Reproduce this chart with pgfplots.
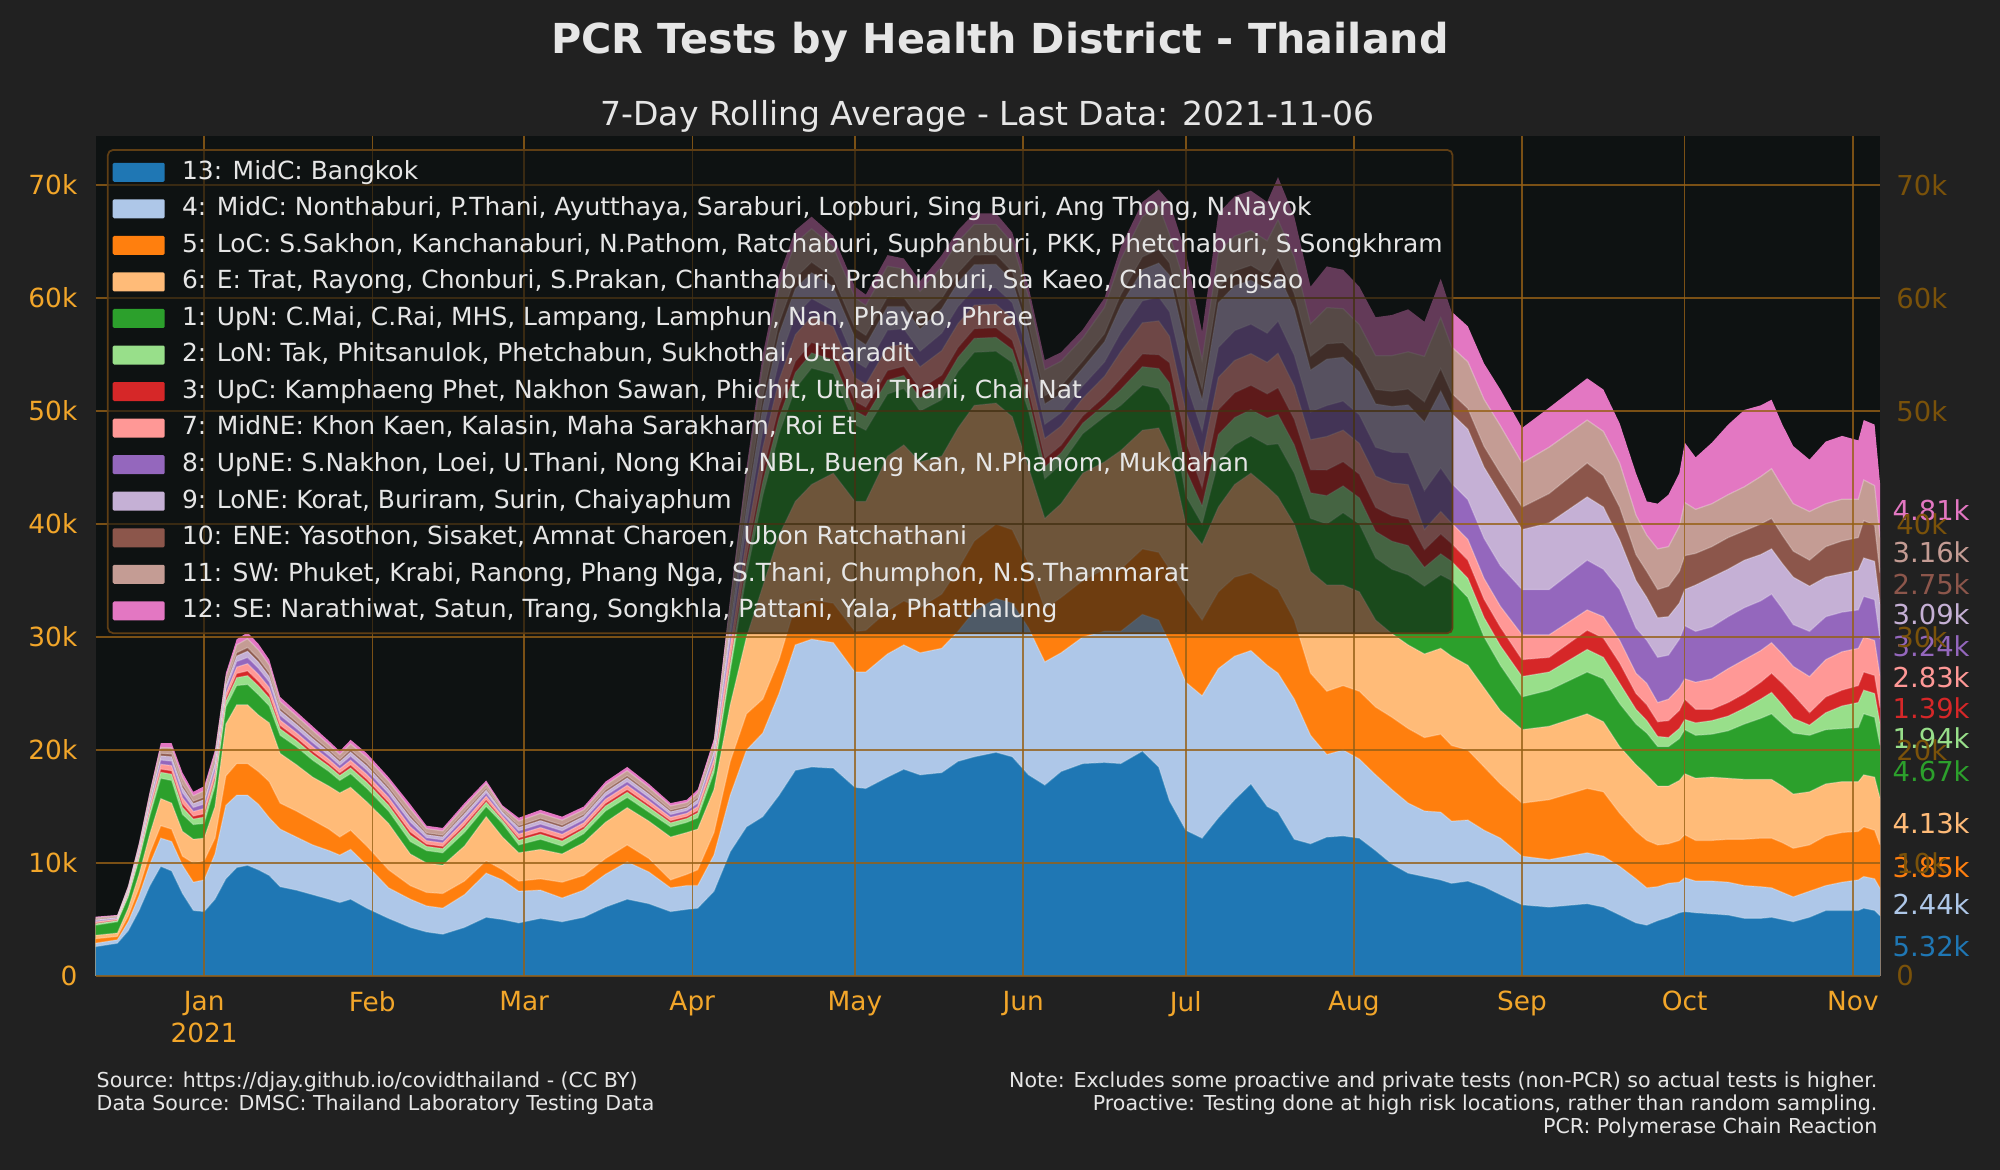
\documentclass[border=0pt]{standalone}
\usepackage{fontspec}
\setmainfont{DejaVu Sans}
\usepackage{pgfplots}
\pgfplotsset{compat=1.18}
\usepackage{pgfplotstable}
\definecolor{figbg}{HTML}{212121}
\definecolor{axbg}{HTML}{0E1212}
\definecolor{tickc}{HTML}{F2A62A}
\definecolor{rtickc}{RGB}{122,82,10}
\definecolor{gridc}{RGB}{150,96,22}
\definecolor{legedge}{RGB}{95,62,20}
\definecolor{txt}{HTML}{E6E6E6}
\definecolor{c1}{HTML}{1F77B4}
\definecolor{c2}{HTML}{AEC7E8}
\definecolor{c3}{HTML}{FF7F0E}
\definecolor{c4}{HTML}{FFBB78}
\definecolor{c5}{HTML}{2CA02C}
\definecolor{c6}{HTML}{98DF8A}
\definecolor{c7}{HTML}{D62728}
\definecolor{c8}{HTML}{FF9896}
\definecolor{c9}{HTML}{9467BD}
\definecolor{c10}{HTML}{C5B0D5}
\definecolor{c11}{HTML}{8C564B}
\definecolor{c12}{HTML}{C49C94}
\definecolor{c13}{HTML}{E377C2}
% cumulative tops of the stacked layers, in thousands of tests; d = days since 2021-01-01
\pgfplotstableread{
d c1 c2 c3 c4 c5 c6 c7 c8 c9 c10 c11 c12 c13
-20 2.6 2.9 3.3 3.6 4.5 4.63 4.70 4.80 4.89 4.98 5.03 5.16 5.25
-16 2.9 3.2 3.5 3.8 4.8 4.90 4.96 5.04 5.11 5.18 5.23 5.33 5.40
-14 4.0 4.8 5.3 6.0 7.0 7.17 7.26 7.40 7.52 7.64 7.71 7.88 8.0
-12 5.8 7.1 7.8 9.0 10.3 10.56 10.69 10.90 11.08 11.26 11.37 11.62 11.8
-10 8.0 9.9 10.9 12.6 14.2 14.57 14.77 15.08 15.34 15.61 15.76 16.14 16.4
-8 9.7 12.2 13.3 15.7 17.5 18.03 18.31 18.74 19.11 19.48 19.70 20.23 20.6
-6 9.3 11.9 13.0 15.3 17.3 17.86 18.16 18.62 19.02 19.41 19.64 20.20 20.6
-4 7.3 9.8 10.6 12.8 14.3 14.93 15.26 15.78 16.22 16.67 16.93 17.56 18.0
-2 5.8 8.3 10.0 12.1 13.4 13.89 14.15 14.56 14.91 15.26 15.46 15.95 16.3
0 5.7 8.5 10.2 12.2 13.5 14.06 14.36 14.82 15.22 15.61 15.84 16.40 16.8
2 6.8 10.8 12.2 15.0 16.8 17.34 17.63 18.08 18.46 18.85 19.07 19.62 20.0
4 8.6 15.1 17.7 22.3 23.8 24.31 24.58 25.0 25.36 25.72 25.93 26.44 26.8
6 9.6 16.0 18.8 24.0 25.7 26.40 26.77 27.34 27.83 28.32 28.61 29.31 29.8
8 9.8 16.0 18.8 24.0 25.8 26.58 27.0 27.64 28.19 28.74 29.07 29.85 30.4
10 9.4 15.2 18.1 23.1 24.9 25.67 26.07 26.7 27.24 27.78 28.10 28.86 29.4
12 8.9 14.0 17.2 22.4 23.9 24.60 24.97 25.54 26.03 26.52 26.81 27.51 28.0
14 7.9 13.0 15.3 19.7 21.3 21.88 22.18 22.66 23.07 23.48 23.71 24.29 24.7
17 7.6 12.3 14.6 18.7 20.3 20.83 21.11 21.54 21.91 22.28 22.50 23.03 23.4
20 7.2 11.6 13.8 17.6 19.1 19.61 19.88 20.3 20.66 21.02 21.23 21.74 22.1
23 6.8 11.1 13.0 16.8 18.1 18.56 18.80 19.18 19.50 19.83 20.02 20.48 20.8
25 6.5 10.7 12.3 16.2 17.3 17.74 17.98 18.34 18.65 18.96 19.15 19.59 19.9
27 6.8 11.2 12.9 16.7 17.9 18.41 18.68 19.1 19.46 19.82 20.03 20.54 20.9
30 6.0 9.8 11.5 15.4 16.6 17.13 17.41 17.84 18.21 18.58 18.80 19.33 19.7
34 5.1 7.8 9.4 13.5 14.6 15.11 15.38 15.8 16.16 16.52 16.73 17.24 17.6
38 4.3 6.8 8.0 10.8 11.9 12.46 12.76 13.22 13.62 14.01 14.24 14.80 15.2
41 3.9 6.2 7.4 10.0 11.1 11.47 11.67 11.98 12.24 12.51 12.66 13.04 13.3
44 3.7 6.0 7.3 9.8 10.9 11.27 11.47 11.78 12.04 12.31 12.46 12.84 13.1
48 4.3 7.2 8.4 11.5 12.7 13.14 13.38 13.74 14.05 14.36 14.55 14.99 15.3
52 5.2 9.1 10.2 14.1 15.0 15.39 15.60 15.92 16.20 16.47 16.63 17.02 17.3
55 5.0 8.5 9.4 12.3 13.5 13.77 13.92 14.14 14.33 14.52 14.64 14.91 15.1
58 4.7 7.5 8.4 10.9 11.6 12.01 12.22 12.56 12.85 13.14 13.30 13.71 14.0
62 5.1 7.6 8.6 11.2 12.1 12.54 12.78 13.14 13.45 13.76 13.95 14.39 14.7
66 4.8 6.9 8.3 10.8 11.5 11.94 12.18 12.54 12.85 13.16 13.35 13.79 14.1
70 5.2 7.6 8.9 11.8 12.6 13.01 13.22 13.56 13.85 14.14 14.30 14.71 15.0
74 6.1 9.0 10.4 13.6 14.6 15.04 15.28 15.64 15.95 16.26 16.45 16.89 17.2
78 6.8 10.1 11.6 14.9 15.8 16.26 16.50 16.88 17.20 17.53 17.72 18.18 18.5
82 6.4 9.2 10.4 13.7 14.5 14.93 15.15 15.5 15.8 16.1 16.28 16.7 17.0
86 5.7 7.8 8.5 12.3 13.2 13.56 13.75 14.04 14.29 14.54 14.69 15.05 15.3
89 5.9 8.0 9.0 12.7 13.6 13.94 14.12 14.4 14.64 14.88 15.02 15.36 15.6
91 6.0 8.0 9.4 13.0 14.0 14.43 14.65 15.0 15.3 15.6 15.78 16.2 16.5
94 7.5 10.7 12.7 16.5 18.0 18.51 18.78 19.2 19.56 19.92 20.13 20.64 21.0
97 11.0 16.0 19.0 24.0 27.0 27.65 28.11 29.21 29.99 31.10 31.55 32.98 33.5
100 13.2 20.0 23.2 30.0 35.5 36.45 37.12 38.73 39.87 41.49 42.15 44.24 45.0
103 14.1 21.5 24.5 34.5 42.5 43.75 44.63 46.75 48.25 50.38 51.25 54.0 55.0
106 16.0 25.0 28.0 39.0 48.0 49.4 50.38 52.76 54.44 56.82 57.8 60.88 62.0
109 18.2 29.3 32.8 42.0 52.0 53.4 54.38 56.76 58.44 60.82 61.8 64.88 66.0
112 18.5 29.8 33.3 43.5 53.8 55.14 56.08 58.36 59.96 62.24 63.18 66.13 67.2
116 18.4 29.5 33.0 44.5 53.3 54.52 55.37 57.45 58.91 60.99 61.84 64.52 65.5
120 16.7 26.9 30.5 42.0 48.8 50.02 50.87 52.95 54.41 56.49 57.34 60.02 61.0
122 16.6 26.9 30.6 42.0 48.3 49.5 50.34 52.38 53.82 55.86 56.7 59.34 60.3
126 17.6 28.5 32.3 46.0 51.5 52.73 53.59 55.68 57.16 59.25 60.11 62.82 63.8
129 18.3 29.3 33.2 47.0 52.0 53.15 53.96 55.91 57.29 59.25 60.05 62.58 63.5
132 17.8 28.6 32.6 45.5 50.0 51.15 51.96 53.91 55.29 57.25 58.05 60.58 61.5
136 18.0 29.0 33.8 46.0 51.0 52.28 53.18 55.35 56.89 59.06 59.96 62.78 63.8
139 19.0 30.5 36.0 48.5 53.5 54.75 55.63 57.75 59.25 61.38 62.25 65.0 66.0
142 19.4 32.3 38.5 50.5 55.2 56.43 57.29 59.38 60.86 62.95 63.81 66.52 67.5
146 19.8 33.4 40.0 50.7 55.3 56.52 57.37 59.45 60.91 62.99 63.84 66.52 67.5
149 19.4 33.0 39.5 49.5 54.3 55.45 56.26 58.21 59.59 61.55 62.35 64.88 65.8
152 17.8 30.8 36.5 45.0 50.0 51.1 51.87 53.74 55.06 56.93 57.7 60.12 61.0
155 16.9 27.8 32.5 40.5 44.0 45.05 45.79 47.57 48.83 50.62 51.35 53.66 54.5
158 18.1 28.6 33.5 41.8 45.3 46.29 46.98 48.67 49.85 51.54 52.23 54.41 55.2
162 18.8 30.0 35.0 44.5 48.0 48.92 49.56 51.13 52.23 53.8 54.44 56.46 57.2
166 18.9 30.5 36.0 45.5 49.5 50.55 51.29 53.07 54.33 56.12 56.85 59.16 60.0
169 18.8 30.5 36.0 46.5 50.5 51.9 52.88 55.26 56.94 59.32 60.3 63.38 64.5
173 19.9 32.0 37.8 48.3 52.3 53.92 55.05 57.81 59.75 62.51 63.64 67.2 68.5
176 18.5 31.5 37.5 48.5 52.0 53.76 54.99 57.98 60.1 63.09 64.32 68.19 69.6
178 15.5 29.5 36.0 46.5 50.5 52.48 54.28 56.62 58.78 62.02 63.1 65.62 68.5
181 12.9 26.0 33.5 40.0 42.5 44.8 47.3 50.0 52.6 55.8 57.0 61.0 64.0
184 12.2 24.8 31.5 38.2 40.0 41.6 43.2 45.9 48.2 51.0 51.9 54.5 57.0
187 14.0 27.2 34.0 41.5 45.5 47.92 50.12 52.98 55.62 59.58 60.9 63.98 67.5
190 15.6 28.3 35.3 43.5 47.0 49.42 51.62 54.48 57.12 61.08 62.4 65.48 69.0
193 17.0 28.8 35.7 44.5 47.8 50.12 52.28 55.09 57.69 61.58 62.9 65.98 69.5
196 15.0 27.5 34.8 43.3 47.0 49.37 51.52 54.31 56.89 60.76 62.05 65.06 68.5
198 14.5 26.8 34.2 42.4 47.1 49.7 52.06 55.12 57.96 62.2 63.62 66.92 70.7
201 12.1 24.5 31.5 40.0 44.5 47.0 49.27 52.22 54.94 59.03 60.39 63.57 67.2
204 11.7 21.3 26.8 35.8 40.5 42.76 44.81 47.47 49.93 53.62 54.85 57.72 61.0
207 12.3 19.6 25.2 34.6 40.0 42.51 44.79 47.75 50.49 54.59 55.96 59.15 62.8
210 12.4 20.0 25.7 34.6 41.0 43.37 45.52 48.31 50.89 54.76 56.05 59.06 62.5
213 12.2 19.2 25.2 34.0 40.0 42.31 44.41 47.14 49.66 53.44 54.7 57.64 61.0
216 11.1 17.8 23.8 31.5 37.0 39.34 41.47 44.24 46.8 50.63 51.91 54.89 58.3
219 9.9 16.5 22.9 30.3 36.0 38.48 40.73 43.65 46.35 50.4 51.75 54.9 58.5
222 9.1 15.3 21.9 29.3 35.5 38.09 40.44 43.49 46.31 50.54 51.95 55.24 59.0
225 8.8 14.6 21.1 28.5 34.5 36.16 37.73 39.51 42.95 49.03 50.81 54.84 57.9
228 8.5 14.5 21.4 29.0 35.5 37.36 39.12 41.11 44.96 51.77 53.76 58.27 61.7
230 8.2 13.7 20.4 28.3 35.0 36.69 38.28 40.09 43.59 49.78 51.59 55.68 58.8
233 8.4 13.8 20.0 27.5 33.5 35.2 36.81 38.64 42.16 48.4 50.23 54.36 57.5
236 7.9 12.9 18.5 25.5 30.0 31.72 33.34 35.18 38.74 45.03 46.87 51.03 54.2
239 7.2 12.2 17.0 23.5 27.5 29.23 30.87 32.72 36.31 42.65 44.51 48.7 51.9
243 6.3 10.6 15.3 21.8 24.7 26.5 28.0 30.2 34.2 39.5 41.5 45.4 48.5
248 6.1 10.3 15.6 22.1 25.3 26.9 28.2 30.2 34.2 40.1 42.7 46.8 50.3
255 6.4 10.9 16.6 23.2 26.9 28.9 30.6 32.4 36.8 42.4 45.4 49.2 52.9
258 6.1 10.6 16.3 22.5 26.3 28.2 29.9 31.8 36.0 41.5 44.3 48.2 51.9
261 5.4 9.7 14.4 20.3 24.1 25.9 27.7 29.7 34.2 38.6 41.5 45.4 48.9
264 4.7 8.6 12.8 18.7 22.3 23.6 25.0 26.8 30.8 35.0 37.3 40.8 44.5
266 4.5 7.8 12.0 17.8 21.5 22.6 24.0 25.9 29.7 33.5 35.8 39.0 42.0
268 4.9 7.9 11.6 16.8 20.3 21.2 22.5 24.2 28.2 31.7 34.2 37.8 41.8
270 5.2 8.2 11.7 16.8 20.3 21.1 22.6 24.5 28.4 31.8 34.5 38.0 42.6
272 5.6 8.3 12.0 17.3 21.0 21.9 23.5 25.5 29.8 33.0 35.8 39.8 44.5
273 5.7 8.7 12.5 17.9 21.8 22.7 24.5 26.3 31.0 34.2 37.2 41.9 47.2
275 5.6 8.4 12.0 17.5 21.3 22.4 23.6 26.0 30.5 34.6 37.4 41.3 45.9
278 5.5 8.4 12.0 17.6 21.4 22.6 23.6 26.3 30.9 35.3 38.0 41.8 47.2
281 5.4 8.3 12.1 17.5 21.7 23.0 24.2 27.2 31.8 36.0 38.8 42.6 48.8
284 5.1 8.0 12.1 17.4 22.3 23.7 25.0 28.0 32.6 36.8 39.4 43.3 50.1
287 5.1 7.9 12.2 17.4 22.8 24.5 26.0 28.8 33.2 37.3 40.0 44.2 50.5
289 5.2 7.8 12.2 17.4 23.2 25.1 26.8 29.5 33.8 37.8 40.5 44.9 51.0
291 5.0 7.4 11.8 16.8 22.3 24.0 25.9 28.5 32.5 36.5 39.0 43.3 48.8
293 4.8 7.0 11.3 16.1 21.5 22.8 24.9 27.4 31.1 35.3 37.6 41.8 46.9
296 5.2 7.5 11.6 16.3 21.3 22.2 23.3 26.5 30.5 34.5 36.8 41.1 45.7
299 5.8 8.0 12.4 17.0 21.8 23.3 24.7 28.0 31.8 35.3 38.0 41.8 47.3
302 5.8 8.3 12.7 17.2 21.9 23.9 25.3 28.7 32.2 35.6 38.5 42.2 47.8
305 5.8 8.5 12.8 17.2 22.0 24.2 25.7 29.0 32.4 35.9 38.8 42.2 47.4
306 6.0 8.8 13.2 17.8 23.2 25.3 26.9 30.0 33.6 37.0 40.3 43.9 49.2
308 5.8 8.6 12.9 17.6 22.9 25.0 26.6 29.7 33.3 36.7 39.9 43.4 48.8
309 5.32 7.76 11.61 15.74 20.41 22.35 23.74 26.57 29.81 32.9 35.65 38.81 43.62
}\data

\pgfplotsset{
  area/.style={fill=#1, draw=none},
  edge/.style={forget plot, white, opacity=0.28, line width=0.35pt},
}

\begin{document}
\begin{tikzpicture}
\fill[figbg] (0,0) rectangle (20,11.7);
\useasboundingbox (0,0) rectangle (20,11.7);

\begin{axis}[
  at={(0.957cm,1.94cm)}, anchor=south west,
  scale only axis, width=17.843cm, height=8.395cm,
  xmin=-20, xmax=309, ymin=0, ymax=74.3,
  enlargelimits=false,
  axis background/.style={fill=axbg},
  axis line style={draw=none},
  major tick length=0pt,
  axis on top,
  clip mode=individual,
  grid=major,
  grid style={gridc, line width=0.4pt, opacity=0.8},
  xtick={0,31,59,90,120,151,181,212,243,273,304},
  xticklabels={{Jan\\2021},Feb,Mar,Apr,May,Jun,Jul,Aug,Sep,Oct,Nov},
  xticklabel style={align=center, text=tickc, font=\fontsize{7.5}{9.2}\selectfont, yshift=-0.03cm},
  ytick={0,10,20,30,40,50,60,70},
  yticklabels={0,10k,20k,30k,40k,50k,60k,70k},
  yticklabel style={text=tickc, font=\fontsize{7.5}{9}\selectfont, xshift=-0.06cm},
  legend cell align=left,
  reverse legend,
  legend image code/.code={\fill[#1, fill opacity=1, rounded corners=0.4pt] (0cm,-0.095cm) rectangle (0.52cm,0.095cm);},
  legend style={
    at={(0.0063,0.985)}, anchor=north west,
    fill=axbg, fill opacity=0.6, text opacity=1, draw opacity=1,
    draw=legedge, rounded corners=1.5pt, line width=0.5pt,
    text=txt, font=\fontsize{7.1}{8.5}\selectfont,
    row sep=0.5pt, column sep=0.12cm, inner sep=1.4pt,
    nodes={inner sep=1.5pt, text height=5.4pt, text depth=1.5pt},
  },
]
\addplot[area=c13] table[x=d,y=c13]{\data} \closedcycle;
\addlegendentry{12: SE: Narathiwat, Satun, Trang, Songkhla, Pattani, Yala, Phatthalung}
\addplot[area=c12] table[x=d,y=c12]{\data} \closedcycle;
\addlegendentry{11: SW: Phuket, Krabi, Ranong, Phang Nga, S.Thani, Chumphon, N.S.Thammarat}
\addplot[area=c11] table[x=d,y=c11]{\data} \closedcycle;
\addlegendentry{10: ENE: Yasothon, Sisaket, Amnat Charoen, Ubon Ratchathani}
\addplot[area=c10] table[x=d,y=c10]{\data} \closedcycle;
\addlegendentry{9: LoNE: Korat, Buriram, Surin, Chaiyaphum}
\addplot[area=c9] table[x=d,y=c9]{\data} \closedcycle;
\addlegendentry{8: UpNE: S.Nakhon, Loei, U.Thani, Nong Khai, NBL, Bueng Kan, N.Phanom, Mukdahan}
\addplot[area=c8] table[x=d,y=c8]{\data} \closedcycle;
\addlegendentry{7: MidNE: Khon Kaen, Kalasin, Maha Sarakham, Roi Et}
\addplot[area=c7] table[x=d,y=c7]{\data} \closedcycle;
\addlegendentry{3: UpC: Kamphaeng Phet, Nakhon Sawan, Phichit, Uthai Thani, Chai Nat}
\addplot[area=c6] table[x=d,y=c6]{\data} \closedcycle;
\addlegendentry{2: LoN: Tak, Phitsanulok, Phetchabun, Sukhothai, Uttaradit}
\addplot[area=c5] table[x=d,y=c5]{\data} \closedcycle;
\addlegendentry{1: UpN: C.Mai, C.Rai, MHS, Lampang, Lamphun, Nan, Phayao, Phrae}
\addplot[area=c4] table[x=d,y=c4]{\data} \closedcycle;
\addlegendentry{6: E: Trat, Rayong, Chonburi, S.Prakan, Chanthaburi, Prachinburi, Sa Kaeo, Chachoengsao}
\addplot[area=c3] table[x=d,y=c3]{\data} \closedcycle;
\addlegendentry{5: LoC: S.Sakhon, Kanchanaburi, N.Pathom, Ratchaburi, Suphanburi, PKK, Phetchaburi, S.Songkhram}
\addplot[area=c2] table[x=d,y=c2]{\data} \closedcycle;
\addlegendentry{4: MidC: Nonthaburi, P.Thani, Ayutthaya, Saraburi, Lopburi, Sing Buri, Ang Thong, N.Nayok}
\addplot[area=c1] table[x=d,y=c1]{\data} \closedcycle;
\addlegendentry{13: MidC: Bangkok}

\addplot[edge] table[x=d,y=c1]{\data};
\addplot[edge] table[x=d,y=c2]{\data};
\addplot[edge] table[x=d,y=c3]{\data};
\addplot[edge] table[x=d,y=c4]{\data};
\addplot[edge] table[x=d,y=c5]{\data};
\addplot[edge] table[x=d,y=c6]{\data};
\addplot[edge] table[x=d,y=c7]{\data};
\addplot[edge] table[x=d,y=c8]{\data};
\addplot[edge] table[x=d,y=c9]{\data};
\addplot[edge] table[x=d,y=c10]{\data};
\addplot[edge] table[x=d,y=c11]{\data};
\addplot[edge] table[x=d,y=c12]{\data};

\begin{scope}[every node/.style={anchor=west, font=\fontsize{7.8}{9}\selectfont, xshift=0.12cm, inner sep=0pt}]
\node[text=c13] at (axis cs:309,41.2) {4.81k};
\node[text=c12] at (axis cs:309,37.5) {3.16k};
\node[text=c11] at (axis cs:309,34.7) {2.75k};
\node[text=c10] at (axis cs:309,32.0) {3.09k};
\node[text=c9]  at (axis cs:309,29.2) {3.24k};
\node[text=c8]  at (axis cs:309,26.4) {2.83k};
\node[text=c7]  at (axis cs:309,23.7) {1.39k};
\node[text=c6]  at (axis cs:309,21.0) {1.94k};
\node[text=c5]  at (axis cs:309,18.1) {4.67k};
\node[text=c4]  at (axis cs:309,13.5) {4.13k};
\node[text=c3]  at (axis cs:309,9.6) {3.85k};
\node[text=c2]  at (axis cs:309,6.4) {2.44k};
\node[text=c1]  at (axis cs:309,2.6) {5.32k};
\end{scope}
\end{axis}

\begin{axis}[
  at={(0.957cm,1.94cm)}, anchor=south west,
  scale only axis, width=17.843cm, height=8.395cm,
  xmin=-20, xmax=309, ymin=0, ymax=74.3,
  axis x line=none, axis y line*=right,
  axis line style={draw=none},
  major tick length=0pt,
  ytick={0,10,20,30,40,50,60,70},
  yticklabels={0,10k,20k,30k,40k,50k,60k,70k},
  yticklabel style={text=rtickc, font=\fontsize{7.8}{9}\selectfont, xshift=0.04cm},
]
\addplot[draw=none, forget plot] coordinates {(0,0) (10,10)};
\end{axis}

\node[font=\bfseries\fontsize{11.75}{14}\selectfont, text=txt] at (10,11.28) {PCR Tests by Health District - Thailand};
\node[font=\fontsize{9.4}{11}\selectfont, text=txt] at (9.877,10.54) {7-Day Rolling Average - Last Data: 2021-11-06};
\begin{scope}[every node/.style={font=\fontsize{5.85}{7}\selectfont, text=txt, inner sep=0pt}]
\node[anchor=west] at (0.96,0.88) {Source: https://djay.github.io/covidthailand - (CC BY)};
\node[anchor=west] at (0.96,0.65) {Data Source: DMSC: Thailand Laboratory Testing Data};
\node[anchor=east] at (18.78,0.88) {Note: Excludes some proactive and private tests (non-PCR) so actual tests is higher.};
\node[anchor=east] at (18.78,0.65) {Proactive: Testing done at high risk locations, rather than random sampling.};
\node[anchor=east] at (18.78,0.42) {PCR: Polymerase Chain Reaction};
\end{scope}
\end{tikzpicture}
\end{document}
